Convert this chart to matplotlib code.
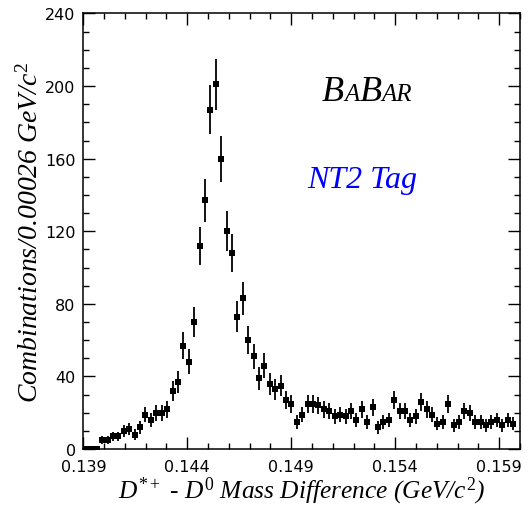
"""D*+ - D0 mass difference, NT2 tag (BaBar style)."""
import numpy as np, matplotlib
matplotlib.use('Agg')
import matplotlib.pyplot as plt
from matplotlib.ticker import MultipleLocator
from matplotlib.offsetbox import TextArea, HPacker, AnnotationBbox

plt.rcParams['mathtext.fontset'] = 'custom'
plt.rcParams['mathtext.rm'] = 'Liberation Serif'
plt.rcParams['mathtext.it'] = 'Liberation Serif:italic'

# --- data: histogram bins of 0.00026 GeV/c^2 starting at 0.139 ---
bin_lo = 0.139
bin_width = 0.00026
counts = [0, 0, 0, 5, 5, 7, 7, 10, 11, 8,
          12, 19, 16, 20, 20, 22, 32, 37, 57, 48,
          70, 112, 137, 187, 201, 160, 120, 108, 73, 83,
          60, 51, 39, 46, 36, 33, 35, 27, 25, 15,
          19, 25, 25, 24, 22, 21, 18, 19, 18, 21,
          16, 22, 15, 23, 12, 15, 16, 27, 21, 21,
          16, 18, 26, 22, 19, 14, 15, 25, 13, 15,
          21, 20, 15, 15, 13, 15, 16, 13, 16, 14]
x_ticks = [0.139, 0.144, 0.149, 0.154, 0.159]
x_tick_labels = ['0.139', '0.144', '0.149', '0.154', '0.159']
y_ticks = [0, 40, 80, 120, 160, 200, 240]

counts = np.array(counts, dtype=float)
centers = bin_lo + (np.arange(len(counts)) + 0.5) * bin_width
errs = np.sqrt(counts)  # poisson errors

fig = plt.figure(figsize=(5.28, 5.10), dpi=100)
ax = fig.add_axes([0.1578, 0.1176, 0.8270, 0.8540])

ax.errorbar(centers, counts, yerr=errs, fmt='s', color='black', ms=4.6,
            elinewidth=1.3, capsize=0, mew=0)

ax.set_xlim(0.139, 0.160)
ax.set_ylim(0, 240)
ax.set_xticks(x_ticks)
ax.set_xticklabels(x_tick_labels)
ax.set_yticks(y_ticks)
ax.xaxis.set_minor_locator(MultipleLocator(0.001))
ax.yaxis.set_minor_locator(MultipleLocator(10))
ax.tick_params(which='both', direction='in', top=True, right=True, width=1.0)
ax.tick_params(which='major', length=8.5)
ax.tick_params(which='minor', length=4.3)
ax.tick_params(axis='x', which='major', pad=7)
ax.tick_params(axis='y', which='major', pad=5.5)
for lab in ax.get_xticklabels() + ax.get_yticklabels():
    lab.set_family('DejaVu Sans')
    lab.set_fontsize(11.5)
for sp in ax.spines.values():
    sp.set_linewidth(1.1)

ax.set_xlabel(r'$D^{*+}$ - $D^{0}$ Mass Difference (GeV/$c^{2}$)', labelpad=1,
              family='Liberation Serif', style='italic', size=18.3)
ax.set_ylabel(r'Combinations/0.00026 GeV/$c^{2}$', labelpad=1,
              family='Liberation Serif', style='italic', size=20)

# BABAR logo: big B, small caps A / AR
logo_parts = [('B', 26), ('A', 18), ('B', 26), ('AR', 18)]
boxes = [TextArea(t, textprops=dict(size=s, family='Liberation Serif', style='italic'))
         for t, s in logo_parts]
logo = HPacker(children=boxes, align='baseline', pad=0, sep=0)
ax.add_artist(AnnotationBbox(logo, (0.15265, 197), xycoords='data', frameon=False,
                             box_alignment=(0.5, 0.5)))

ax.text(0.15243, 144.5, 'NT2 Tag', color='#0000ff', size=23, family='Liberation Serif',
        style='italic', ha='center', va='baseline')

fig.savefig('out.png', dpi=100)
